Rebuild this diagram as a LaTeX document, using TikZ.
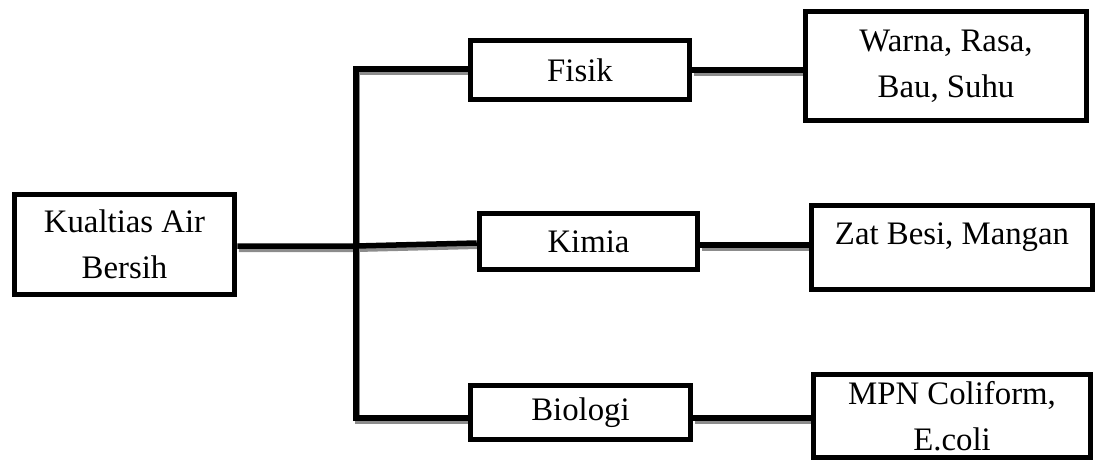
\documentclass[tikz,border=0pt]{standalone}
\usepackage{fontspec}
\setmainfont{Liberation Serif}
\begin{document}
\begin{tikzpicture}[x=1pt,y=-1pt,
  box/.style={draw=black, line width=5.5pt, fill=white, inner sep=0pt, align=center,
    font=\fontsize{32.8}{46}\selectfont},
  txt/.style={inner sep=0pt, align=center, font=\fontsize{32.8}{46}\selectfont},
  conn/.style={draw=black, line width=5.5pt},
  shadow/.style={draw=black!45, line width=5pt, transform canvas={xshift=1.5pt,yshift=-3.5pt}}]
\useasboundingbox (0,0) rectangle (1099,462);
% boxes
\node[box, minimum width=220pt, minimum height=100pt] (root) at (124.5,244.5) {Kualtias Air\\Bersih};
\node[box, minimum width=219pt, minimum height=59pt] (fisik) at (580,70) {Fisik};
\node[box, minimum width=218pt, minimum height=56pt] (kimia) at (588.5,241.5) {Kimia};
\node[box, minimum width=220pt, minimum height=54pt] (bio) at (580.5,412.5) {Biologi};
\node[box, minimum width=281pt, minimum height=109pt] (warna) at (946,66) {Warna, Rasa,\\Bau, Suhu};
\node[box, minimum width=281pt, minimum height=84pt] (zat) at (952,247.5) {};
\node[txt] (zattext) at (952,237) {Zat Besi, Mangan};
\node[box, minimum width=277pt, minimum height=83pt] (mpn) at (952,416) {MPN Coliform,\\E.coli};
% junction coordinates
\coordinate (J) at (356,246);
\coordinate (T) at (356,69);
\coordinate (B) at (356,418);
\coordinate (kz) at (700,245);
\coordinate (bm) at (693,418);
% shadows
\draw[shadow] (root.east |- J) -- (J) -- (kimia.west |- 0,243);
\draw[shadow] (fisik.west |- T) -- (T) -- (B) -- (bio.west |- B);
\draw[shadow] (fisik.east) -- (warna.west |- fisik.east);
\draw[shadow] (kz -| kimia.east) -- (kz -| zat.west);
\draw[shadow] (bm -| bio.east) -- (bm -| mpn.west);
% connectors
\draw[conn] (root.east |- J) -- (J) -- (kimia.west |- 0,243);
\draw[conn] (fisik.west |- T) -- (T) -- (B) -- (bio.west |- B);
\draw[conn] (fisik.east) -- (warna.west |- fisik.east);
\draw[conn] (kz -| kimia.east) -- (kz -| zat.west);
\draw[conn] (bm -| bio.east) -- (bm -| mpn.west);
% redraw boxes over line ends
\node[box, minimum width=220pt, minimum height=100pt] at (root) {Kualtias Air\\Bersih};
\node[box, minimum width=219pt, minimum height=59pt] at (fisik) {Fisik};
\node[box, minimum width=218pt, minimum height=56pt] at (kimia) {Kimia};
\node[box, minimum width=220pt, minimum height=54pt] at (bio) {Biologi};
\node[box, minimum width=281pt, minimum height=109pt] at (warna) {Warna, Rasa,\\Bau, Suhu};
\node[box, minimum width=281pt, minimum height=84pt] at (zat) {};
\node[txt] at (zattext) {Zat Besi, Mangan};
\node[box, minimum width=277pt, minimum height=83pt] at (mpn) {MPN Coliform,\\E.coli};
\end{tikzpicture}
\end{document}
